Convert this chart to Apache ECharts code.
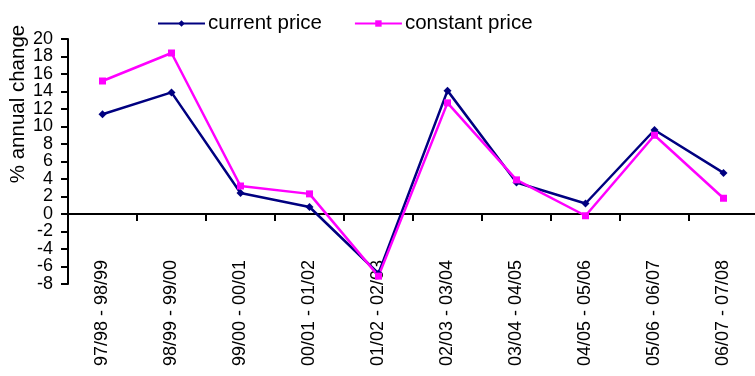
<!DOCTYPE html>
<html>
<head>
<meta charset="utf-8">
<script src="https://cdn.jsdelivr.net/npm/echarts@6/dist/echarts.min.js"></script>
<style>
  html, body { margin: 0; padding: 0; background: #fff; }
  #chart { width: 755px; height: 376px; }
</style>
</head>
<body>
<div id="chart"></div>
<script>
// Period labels along the category axis
const periods = [
  '97/98 - 98/99', '98/99 - 99/00', '99/00 - 00/01', '00/01 - 01/02', '01/02 - 02/03',
  '02/03 - 03/04', '03/04 - 04/05', '04/05 - 05/06', '05/06 - 06/07', '06/07 - 07/08'
];
// % annual change, current prices
const currentPrice = [11.4, 13.9, 2.4, 0.8, -6.8, 14.1, 3.6, 1.2, 9.6, 4.7];
// % annual change, constant prices
const constantPrice = [15.2, 18.4, 3.2, 2.3, -7.1, 12.7, 3.9, -0.2, 9.0, 1.8];
// Value axis range
const yMin = -8, yMax = 20, yStep = 2;

const FONT = "'Liberation Sans', Arial, sans-serif";
const chart = echarts.init(document.getElementById('chart'));

// The tick labels sit very close together, so they are split over two
// coincident value axes (alternate labels each) to keep every one visible.
function yAxisDef(showEven, main) {
  return {
    type: 'value',
    position: 'left',
    offset: 0,
    min: yMin,
    max: yMax,
    interval: yStep,
    axisLine: { show: main, onZero: false, lineStyle: { color: '#000', width: 2 } },
    axisTick: { show: main, length: 7, lineStyle: { color: '#000', width: 2 } },
    axisLabel: {
      fontSize: 18, color: '#000', margin: 15, fontFamily: FONT,
      hideOverlap: false,
      formatter: function (v) {
        const even = Math.round((v - yMin) / yStep) % 2 === 0;
        return even === showEven ? String(v) : '';
      }
    },
    splitLine: { show: false }
  };
}

chart.setOption({
  animation: false,
  backgroundColor: '#ffffff',
  textStyle: { fontFamily: FONT },
  legend: {
    left: 152,
    top: 8,
    itemWidth: 47,
    itemHeight: 8,
    itemGap: 32,
    textStyle: { fontSize: 20.5, color: '#000', fontFamily: FONT, padding: [0, 0, 0, -2] },
    data: ['current price', 'constant price']
  },
  graphic: [{
    type: 'text',
    x: 18,
    y: 104,
    rotation: Math.PI / 2,
    style: {
      text: '% annual change',
      font: '20.5px ' + FONT,
      fill: '#000',
      align: 'center',
      verticalAlign: 'middle'
    }
  }],
  grid: {
    left: 68, top: 39, width: 690, height: 245,
    containLabel: false,
    outerBoundsMode: 'none'
  },
  xAxis: {
    type: 'category',
    data: periods,
    boundaryGap: true,
    axisLine: { onZero: true, onZeroAxisIndex: 0, lineStyle: { color: '#000', width: 2 } },
    axisTick: { show: true, length: 7, lineStyle: { color: '#000', width: 2 } },
    axisLabel: {
      rotate: 90,
      margin: -24,
      fontSize: 18,
      color: '#000',
      fontFamily: FONT,
      interval: 0,
      hideOverlap: false
    },
    splitLine: { show: false }
  },
  yAxis: [yAxisDef(true, true), yAxisDef(false, false)],
  series: [
    {
      name: 'current price',
      type: 'line',
      yAxisIndex: 0,
      data: currentPrice,
      symbol: 'diamond',
      symbolSize: 8,
      lineStyle: { color: '#000080', width: 2.5 },
      itemStyle: { color: '#000080' }
    },
    {
      name: 'constant price',
      type: 'line',
      yAxisIndex: 0,
      data: constantPrice,
      symbol: 'rect',
      symbolSize: 7,
      lineStyle: { color: '#ff00ff', width: 2.5 },
      itemStyle: { color: '#ff00ff' }
    }
  ]
});
</script>
</body>
</html>
